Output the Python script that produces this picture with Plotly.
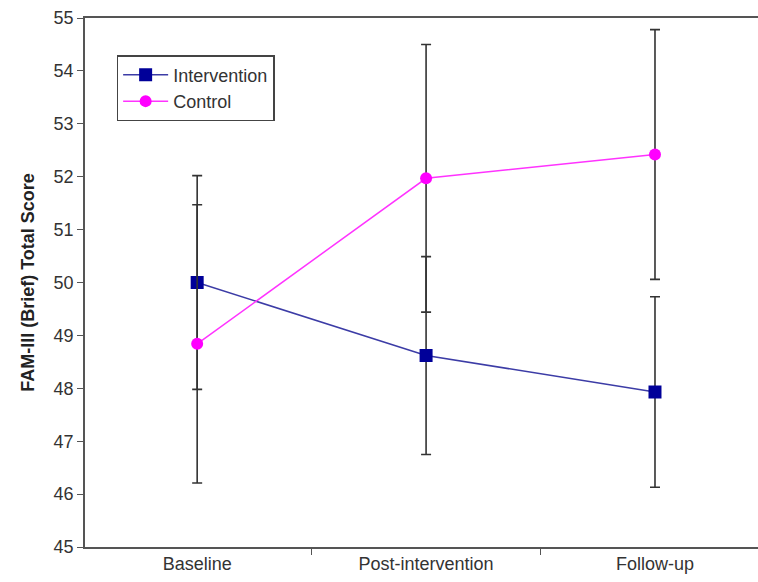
import plotly.graph_objects as go

categories = ["Baseline", "Post-intervention", "Follow-up"]
intervention = [50.0, 48.62, 47.93]
intervention_err = [2.02, 1.87, 1.8]
control = [48.84, 51.97, 52.42]
control_err = [2.63, 2.53, 2.36]
y_ticks = [45, 46, 47, 48, 49, 50, 51, 52, 53, 54, 55]

xpos = list(range(len(categories)))
boundaries = [i + 0.5 for i in xpos[:-1]]

fig = go.Figure()
fig.add_trace(go.Scatter(
    x=xpos, y=intervention, name="Intervention", mode="lines+markers",
    line=dict(color="#3c3ca6", width=1.5),
    marker=dict(symbol="square", size=13, color="#000099"),
    error_y=dict(type="data", array=intervention_err, color="#333333", thickness=1.6, width=5),
))
fig.add_trace(go.Scatter(
    x=xpos, y=control, name="Control", mode="lines+markers",
    line=dict(color="#ff33ff", width=1.5),
    marker=dict(symbol="circle", size=12, color="#ff00ff"),
    error_y=dict(type="data", array=control_err, color="#333333", thickness=1.6, width=5),
))

fig.update_layout(
    width=758, height=582,
    margin=dict(l=85, r=0, t=18, b=35),
    paper_bgcolor="white", plot_bgcolor="white",
    font=dict(family="Liberation Sans, Arial, sans-serif", size=18, color="#333333"),
    showlegend=True,
    legend=dict(x=0.047, y=0.93, xanchor="left", yanchor="top",
                bordercolor="#444444", borderwidth=1.5, bgcolor="white",
                font=dict(size=18, color="#333333"), itemwidth=45),
    xaxis=dict(range=[-0.49, 2.45], showgrid=False,
               showline=True, linecolor="#555555", linewidth=1.5, mirror=True,
               tickmode="array", tickvals=xpos, ticktext=categories, ticks="",
               minor=dict(tickmode="array", tickvals=boundaries, ticks="outside",
                          ticklen=6, tickcolor="#555555", showgrid=False),
               tickfont=dict(size=18, color="#333333"), zeroline=False),
    yaxis=dict(range=[45, 55], tickvals=y_ticks, showgrid=False,
               showline=True, linecolor="#555555", linewidth=1.5,
               ticks="outside", ticklen=6, tickcolor="#555555",
               tickfont=dict(size=18, color="#333333"), zeroline=False,
               title=dict(text="<b>FAM-III (Brief) Total Score</b>", font=dict(size=18, color="#222222"), standoff=14)),
)

fig.write_html("out.html", config={"displayModeBar": False},
               post_script="document.body.style.margin='0px';document.body.style.overflow='hidden';"
                           "document.documentElement.style.overflow='hidden';")
